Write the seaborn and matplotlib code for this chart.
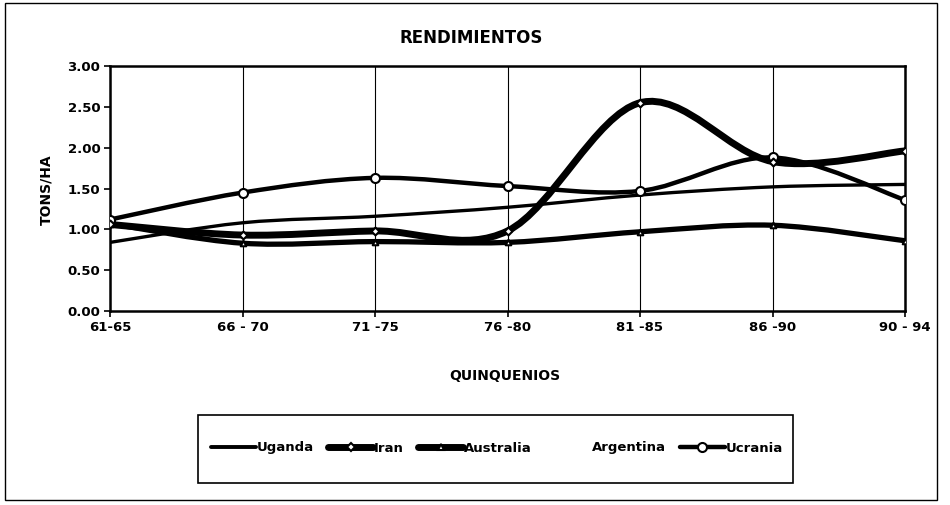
import numpy as np
import pandas as pd
import matplotlib
matplotlib.use("Agg")
import matplotlib.pyplot as plt
import seaborn as sns
from matplotlib.path import Path
from matplotlib.patches import PathPatch, Rectangle
from matplotlib.lines import Line2D

# Data
periods = ["61-65", "66 - 70", "71 -75", "76 -80", "81 -85", "86 -90", "90 - 94"]
uganda = [0.84, 1.08, 1.16, 1.27, 1.42, 1.52, 1.55]
iran = [1.06, 0.93, 0.98, 0.98, 2.55, 1.83, 1.96]
australia = [1.07, 0.83, 0.85, 0.84, 0.97, 1.05, 0.86]
argentina = []  # listed in legend, no line visible
ucrania = [1.12, 1.45, 1.63, 1.53, 1.47, 1.88, 1.36]

sns.set_style("white")
plt.rcParams['font.family'] = ['DejaVu Sans']
plt.rcParams['font.weight'] = 'bold'
plt.rcParams['text.color'] = 'black'
plt.rcParams['xtick.color'] = 'black'
plt.rcParams['ytick.color'] = 'black'

fig = plt.figure(figsize=(9.5, 5.05), dpi=100)
ax = fig.add_axes([110 / 950, 1 - 311 / 505, 795 / 950, 245 / 505])


def smooth_path(xs, ys):
    # Excel style smoothed line: Catmull-Rom converted to cubic Bezier
    pts = np.column_stack([xs, ys]).astype(float)
    ext = np.vstack([pts[0], pts, pts[-1]])
    verts = [pts[0]]
    codes = [Path.MOVETO]
    for i in range(1, len(ext) - 2):
        p0, p1, p2, p3 = ext[i - 1], ext[i], ext[i + 1], ext[i + 2]
        verts += [p1 + (p2 - p0) / 6, p2 - (p3 - p1) / 6, p2]
        codes += [Path.CURVE4] * 3
    return Path(verts, codes)


series = [
    ("Uganda", uganda, 2.4, None, 0),
    ("Australia", australia, 3.8, "^", 4),
    ("Ucrania", ucrania, 3.2, "o", 6.5),
    ("Iran", iran, 5.0, "D", 4),
]

x = np.arange(len(periods))
for name, vals, lw, mk, ms in series:
    ax.add_patch(PathPatch(smooth_path(x, vals), facecolor="none",
                           edgecolor="black", lw=lw, capstyle="round",
                           joinstyle="round", zorder=3))
    if mk:
        df = pd.DataFrame({"x": x, "y": vals})
        sns.scatterplot(data=df, x="x", y="y", marker=mk, s=ms ** 2,
                        color="white", edgecolor="black", linewidth=1.5,
                        ax=ax, zorder=4)

ax.set_xlim(0, len(periods) - 1)
ax.set_ylim(0, 3.0)
ax.set_xticks(x)
ax.set_xticklabels(periods, fontsize=9.5, fontweight="bold")
ax.set_yticks(np.arange(0, 3.01, 0.5))
ax.set_yticklabels([f"{v:.2f}" for v in np.arange(0, 3.01, 0.5)],
                   fontsize=9.5, fontweight="bold")
ax.set_xlabel("")
ax.set_ylabel("")
ax.tick_params(axis="both", direction="out", length=4, width=1.2,
               color="black", labelcolor="black", pad=3, left=True, bottom=True)
ax.grid(axis="x", color="black", lw=0.8)
ax.grid(axis="y", visible=False)
for sp in ax.spines.values():
    sp.set_color("black")
    sp.set_linewidth(1.8)

fig.text(471 / 950, 1 - 38 / 505, "RENDIMIENTOS", ha="center", va="center",
         fontsize=12, fontweight="bold", color="black")
fig.text(46 / 950, 1 - 190 / 505, "TONS/HA", ha="center", va="center",
         rotation=90, fontsize=10, fontweight="bold", color="black")
fig.text(505 / 950, 1 - 376 / 505, "QUINQUENIOS", ha="center", va="center",
         fontsize=10, fontweight="bold", color="black")

# outer chart border and legend box
fig.patches.append(Rectangle((5 / 950, 1 - 500 / 505), 932 / 950, 497 / 505,
                             transform=fig.transFigure, fill=False,
                             edgecolor="black", lw=1.0))
fig.patches.append(Rectangle((198 / 950, 1 - 483 / 505), 595 / 950, 68 / 505,
                             transform=fig.transFigure, fill=False,
                             edgecolor="black", lw=1.2))

handles = [
    Line2D([], [], color="black", lw=2.8),
    Line2D([], [], color="black", lw=5.0, marker="D", markersize=4,
           markerfacecolor="white", markeredgecolor="black", markeredgewidth=1.5),
    Line2D([], [], color="black", lw=5.0, marker="^", markersize=4,
           markerfacecolor="white", markeredgecolor="black", markeredgewidth=1.5),
    Line2D([], [], color="none", lw=0),
    Line2D([], [], color="black", lw=3.2, marker="o", markersize=6.5,
           markerfacecolor="white", markeredgecolor="black", markeredgewidth=1.5),
]
labels = ["Uganda", "Iran", "Australia", "Argentina", "Ucrania"]
fig.legend(handles, labels, loc="center", bbox_to_anchor=(497 / 950, 1 - 448 / 505),
           ncol=5, frameon=False, handlelength=3.4,
           handletextpad=0.05, columnspacing=1.1,
           prop={"weight": "bold", "size": 9.5})

fig.savefig("out.png", dpi=100)
